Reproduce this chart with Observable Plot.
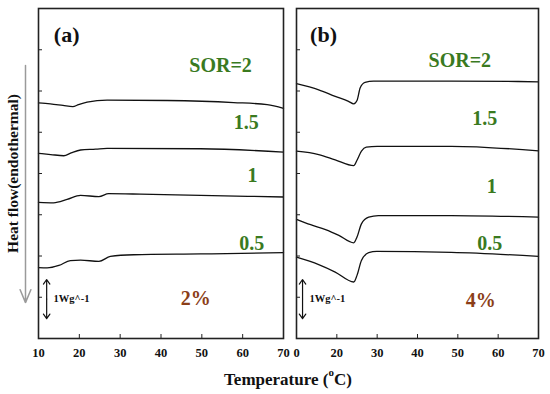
<!DOCTYPE html>
<html><head><meta charset="utf-8">
<script src="https://cdn.jsdelivr.net/npm/d3@7"></script>
<script src="https://cdn.jsdelivr.net/npm/@observablehq/plot@0.6"></script>
<style>
body{margin:0;background:#fff;}
#wrap{position:relative;width:550px;height:394px;overflow:hidden;background:#fff;}
#wrap svg{position:absolute;top:0;}
#xlabel{position:absolute;left:0;width:576px;top:370px;line-height:20px;text-align:center;font:bold 17px 'Liberation Serif',serif;color:#111;}
#xlabel sup{font-size:11px;line-height:0;position:relative;top:-2px;}
</style></head><body>
<div id="wrap"><div id="xlabel">Temperature (<sup>o</sup>C)</div></div>
<script>
// ---- data (temperature °C, heat flow W/g, offset curves) ----
const xTicks = [10, 20, 30, 40, 50, 60, 70];
const aTickLabels = ["10", "20", "30", "40", "50", "60", "70"];
const bTickLabels = ["0", "20", "30", "40", "50", "60", "70"];
const yTicks = [1, 2, 3, 4, 5, 6, 7];

// panel (a) 2%
const a2_T   = [10, 12.9, 16, 18.4, 19.8, 21.9, 26.8, 41.5, 57.8, 66, 70];
const a2_HF  = [5.71, 5.69, 5.65, 5.62, 5.67, 5.73, 5.78, 5.77, 5.72, 5.67, 5.58];
const a15_T  = [10, 13, 16.2, 18, 20.3, 24, 26.8, 49.7, 70];
const a15_HF = [4.49, 4.46, 4.43, 4.50, 4.57, 4.59, 4.61, 4.60, 4.52];
const a1_T   = [10, 13.7, 17, 20.3, 24.8, 27.2, 35, 49.7, 70];
const a1_HF  = [3.30, 3.29, 3.37, 3.47, 3.44, 3.51, 3.50, 3.47, 3.43];
const a05_T  = [10, 12.1, 15, 17.8, 20.3, 24.8, 27.6, 33.3, 49.7, 70];
const a05_HF = [1.72, 1.71, 1.77, 1.89, 1.90, 1.87, 1.99, 2.03, 2.05, 2.08];

// panel (b) 4%
const b2_T   = [10, 15.5, 19.6, 22.9, 24.2, 25, 25.8, 27, 29.1, 48.4, 64.9, 70];
const b2_HF  = [6.18, 6.03, 5.87, 5.75, 5.69, 5.77, 6.08, 6.21, 6.24, 6.24, 6.23, 6.22];
const b15_T  = [10, 15.5, 19.6, 24.2, 25, 26.1, 27.3, 30, 48.4, 70];
const b15_HF = [4.54, 4.46, 4.33, 4.19, 4.32, 4.54, 4.64, 4.66, 4.66, 4.55];
const b1_T   = [10, 13.5, 17.2, 20.5, 24.2, 25, 26.1, 27.9, 30.3, 48.4, 70];
const b1_HF  = [2.89, 2.76, 2.64, 2.50, 2.32, 2.46, 2.78, 2.94, 2.98, 2.98, 2.94];
const b05_T  = [10, 15.5, 19.6, 24.2, 25, 26.1, 27.9, 29.9, 48.4, 70];
const b05_HF = [1.97, 1.79, 1.61, 1.37, 1.53, 1.89, 2.08, 2.11, 2.09, 1.99];

// annotations (data coordinates)
const aLabels   = ["(a)", "SOR=2", "1.5", "1", "0.5", "2%"];
const aLabelT   = [16.9, 54.6, 60.9, 62.4, 62.2, 48.5];
const aLabelHF  = [7.35, 6.62, 5.24, 3.95, 2.30, 0.97];
const bLabels   = ["(b)", "SOR=2", "1.5", "1", "0.5", "4%"];
const bLabelT   = [16.7, 50.5, 56.7, 58.4, 57.9, 55.7];
const bLabelHF  = [7.37, 6.74, 5.33, 3.68, 2.30, 0.92];
const labelKind = ["panel", "sor", "sor", "sor", "sor", "pct"];
const scaleBarText = "1Wg^-1";
const yTitle = "Heat flow(endothermal)";

// ---- build tables ----
const rows = (series, Ts, HFs) => Ts.map((T, i) => ({series, T, HF: HFs[i]}));
const aData = [...rows("2", a2_T, a2_HF), ...rows("1.5", a15_T, a15_HF), ...rows("1", a1_T, a1_HF), ...rows("0.5", a05_T, a05_HF)];
const bData = [...rows("2", b2_T, b2_HF), ...rows("1.5", b15_T, b15_HF), ...rows("1", b1_T, b1_HF), ...rows("0.5", b05_T, b05_HF)];
const labelRows = (texts, Ts, HFs) => texts.map((t, i) => ({text: t, T: Ts[i], HF: HFs[i], kind: labelKind[i]}));

const SERIF = "'Liberation Serif', 'Times New Roman', serif";
const GREEN = "#3a7a1f";
const BROWN = "#8b3e18";
const AXIS = "#222";

function panel({data, labels, tickLabels, width, marginLeft, marginRight, barX, barTextX, withTitle}) {
  const frameW = width - marginLeft - marginRight;
  const barMid = (0.48 + 1.43) / 2;
  const marks = [
    Plot.tickX(xTicks.slice(1, -1), {x: d => d, insetTop: 326, stroke: AXIS, strokeWidth: 1}),
    Plot.tickY(yTicks, {y: d => d, insetRight: frameW - 4, stroke: AXIS, strokeWidth: 1}),
    Plot.line(data, {x: "T", y: "HF", z: "series", curve: "monotone-x", stroke: "#111", strokeWidth: 1.3}),
    Plot.text(labels, {filter: d => d.kind === "panel", x: "T", y: "HF", text: "text", fill: "#111", fontSize: 22, fontWeight: "bold", fontFamily: SERIF}),
    Plot.text(labels, {filter: d => d.kind === "sor", x: "T", y: "HF", text: "text", fill: GREEN, fontSize: 20, fontWeight: "bold", fontFamily: SERIF}),
    Plot.text(labels, {filter: d => d.kind === "pct", x: "T", y: "HF", text: "text", fill: BROWN, fontSize: 20, fontWeight: "bold", fontFamily: SERIF}),
    Plot.arrow([0], {x1: barX, x2: barX, y1: barMid, y2: 1.43, stroke: "#111", strokeWidth: 1.2, headLength: 7, headAngle: 70}),
    Plot.arrow([0], {x1: barX, x2: barX, y1: barMid, y2: 0.48, stroke: "#111", strokeWidth: 1.2, headLength: 7, headAngle: 70}),
    Plot.text([scaleBarText], {x: barTextX, y: 0.97, text: d => d, textAnchor: "start", fill: "#111", fontSize: 10.5, fontWeight: "bold", fontFamily: SERIF}),
    Plot.frame({stroke: AXIS, strokeWidth: 1.6})
  ];
  if (withTitle) {
    marks.push(Plot.text([yTitle], {frameAnchor: "left", dx: -25, rotate: -90, text: d => d, textAnchor: "middle", lineAnchor: "middle", fill: "#111", fontSize: 15.5, fontWeight: "bold", fontFamily: SERIF}));
    marks.push(Plot.arrow([0], {x1: 10, x2: 10, y1: 6.62, y2: 0.87, dx: -13, stroke: "#9a9a9a", strokeWidth: 1.5, headLength: 14, headAngle: 45}));
  }
  return Plot.plot({
    width, height: 394, marginLeft, marginRight, marginTop: 8, marginBottom: 56,
    style: {fontFamily: SERIF, fontSize: "12.5px", fontWeight: "bold", color: "#111", background: "transparent", overflow: "visible"},
    x: {domain: [10, 70], ticks: xTicks, tickFormat: d => tickLabels[xTicks.indexOf(d)], tickSize: 0, tickPadding: 10, label: null},
    y: {domain: [0, 8], axis: null},
    marks
  });
}

const left = panel({data: aData, labels: labelRows(aLabels, aLabelT, aLabelHF), tickLabels: aTickLabels, width: 288, marginLeft: 38, marginRight: 5, barX: 12, barTextX: 13.7, withTitle: true});
const right = panel({data: bData, labels: labelRows(bLabels, bLabelT, bLabelHF), tickLabels: bTickLabels, width: 262, marginLeft: 8, marginRight: 12, barX: 11.5, barTextX: 13.2, withTitle: false});
left.style.left = "0px";
right.style.left = "288px";
const wrap = document.getElementById("wrap");
wrap.prepend(right);
wrap.prepend(left);
</script>
</body></html>
